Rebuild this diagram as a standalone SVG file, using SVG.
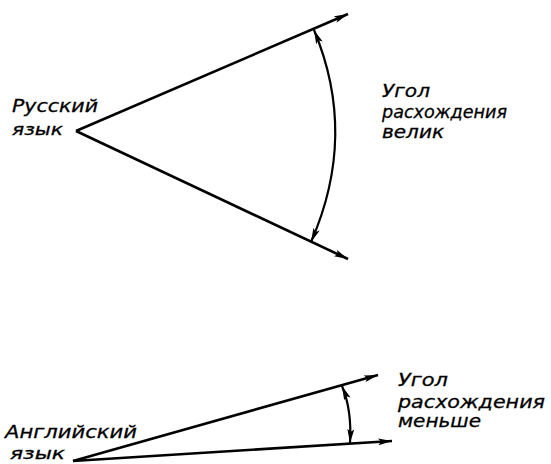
<svg xmlns="http://www.w3.org/2000/svg" width="551" height="464" viewBox="0 0 551 464">
<defs>
<marker id="ah" viewBox="0 0 14 7" refX="14" refY="3.5" markerWidth="14" markerHeight="7" markerUnits="userSpaceOnUse" orient="auto">
<path d="M0,0 L14,3.5 L0,7 L3,3.5 Z" fill="#000"/>
</marker>
<marker id="ahs" viewBox="0 0 14 7" refX="0" refY="3.5" markerWidth="14" markerHeight="7" markerUnits="userSpaceOnUse" orient="auto">
<path d="M14,0 L0,3.5 L14,7 L11,3.5 Z" fill="#000"/>
</marker>
</defs>
<style>
.l{stroke:#000;stroke-width:2.6;fill:none}
.a{stroke:#000;stroke-width:2.2;fill:none}
.t{font-family:"DejaVu Sans","Liberation Sans",sans-serif;font-style:italic;font-size:18px;fill:#000;stroke:#000;stroke-width:0.3}
.s{font-size:16px}
</style>
<rect width="551" height="464" fill="#fff"/>
<g id="connectors">
<path class="l" d="M76,131 L348,14" marker-end="url(#ah)"/>
<path class="l" d="M76,131 L348,259" marker-end="url(#ah)"/>
<path class="a" d="M314,30 Q358,135 311,242" marker-start="url(#ahs)" marker-end="url(#ah)"/>
<path class="l" d="M73,461 L378,375" marker-end="url(#ah)"/>
<path class="l" d="M73,461 L392,441" marker-end="url(#ah)"/>
<path class="a" d="M342,386 Q352,410 350,443" marker-start="url(#ahs)" marker-end="url(#ah)"/>
</g>
<g id="node-russian">
<text class="t" x="12" y="112" textLength="86" lengthAdjust="spacingAndGlyphs">Русский</text>
<text class="t s" x="12" y="135" textLength="51" lengthAdjust="spacingAndGlyphs">язык</text>
</g>
<g id="label-top">
<text class="t" x="382" y="97" textLength="48" lengthAdjust="spacingAndGlyphs">Угол</text>
<text class="t" x="382" y="118" textLength="125" lengthAdjust="spacingAndGlyphs">расхождения</text>
<text class="t" x="382" y="138" textLength="62" lengthAdjust="spacingAndGlyphs">велик</text>
</g>
<g id="node-english">
<text class="t" x="5" y="438" textLength="132" lengthAdjust="spacingAndGlyphs">Английский</text>
<text class="t s" x="10" y="459" textLength="55" lengthAdjust="spacingAndGlyphs">язык</text>
</g>
<g id="label-bottom">
<text class="t" x="398" y="386" textLength="50" lengthAdjust="spacingAndGlyphs">Угол</text>
<text class="t" x="398" y="408" textLength="147" lengthAdjust="spacingAndGlyphs">расхождения</text>
<text class="t" x="398" y="427" textLength="83" lengthAdjust="spacingAndGlyphs">меньше</text>
</g>
</svg>
